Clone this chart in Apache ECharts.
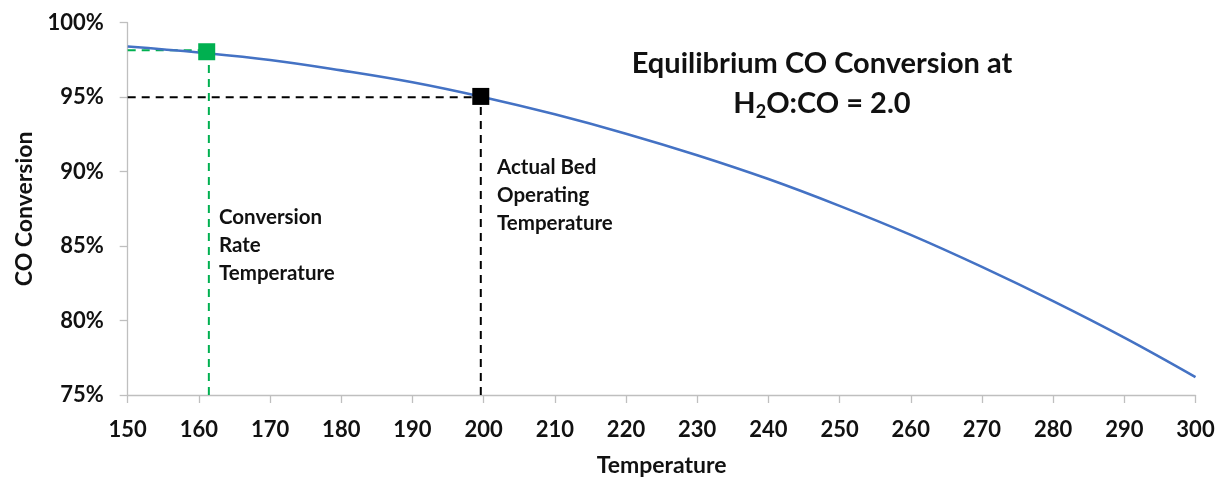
<!DOCTYPE html>
<html>
<head>
<meta charset="utf-8">
<script src="https://cdn.jsdelivr.net/npm/echarts@6/dist/echarts.min.js"></script>
<style>
html,body{margin:0;padding:0;background:#fff;}
#chart{width:1220px;height:482px;}
</style>
</head>
<body>
<div id="chart"></div>
<script>
// Temperatures (x) and equilibrium CO conversion (%)
const temperatures = [150, 160, 170, 180, 190, 200, 210, 220, 230, 240, 250, 260, 270, 280, 290, 300];
const conversion   = [98.4, 98.0, 97.5, 96.8, 96.0, 95.0, 93.85, 92.55, 91.1, 89.5, 87.7, 85.75, 83.6, 81.3, 78.85, 76.2];

// Marked operating points
const greenPoint = [161.1, 98.05];   // conversion rate temperature
const blackPoint = [199.6, 95.05];   // actual bed operating temperature

// Guide lines
const greenHLine = [[150, 98.15], [161.1, 98.15]];
const greenVLine = [[161.4, 75], [161.4, 98.05]];
const blackHLine = [[150, 95], [199.6, 95]];
const blackVLine = [[199.6, 75], [199.6, 95.05]];

// Axes
const xMin = 150, xMax = 300, xStep = 10;
const yMin = 75, yMax = 100, yStep = 5;

const titleLine1 = 'Equilibrium CO Conversion at';
const titleLine2 = 'H{sub|2}O:CO = 2.0';
const xName = 'Temperature';
const yName = 'CO Conversion';
const noteGreen = 'Conversion\nRate\nTemperature';
const noteBlack = 'Actual Bed\nOperating\nTemperature';

const FONT = 'Lato, "Open Sans", sans-serif';
const INK = '#111111';
const chart = echarts.init(document.getElementById('chart'), null, {renderer: 'canvas'});

const curveData = temperatures.map((t, i) => [t, conversion[i]]);

const option = {
  backgroundColor: '#ffffff',
  animation: false,
  textStyle: {fontFamily: FONT},
  grid: {left: 127.7, right: 24.5, top: 22.7, bottom: 84.5, containLabel: false},
  xAxis: {
    type: 'value', min: xMin, max: xMax, interval: xStep,
    name: xName, nameLocation: 'middle', nameGap: 59,
    nameTextStyle: {fontFamily: FONT, fontWeight: 'bold', fontSize: 23, color: INK},
    axisLine: {show: true, lineStyle: {color: '#BFBFBF', width: 1.3}},
    axisTick: {show: true, length: 8, lineStyle: {color: '#BFBFBF', width: 1.3}},
    axisLabel: {fontFamily: FONT, fontWeight: 'bold', fontSize: 22, color: INK, margin: 24},
    splitLine: {show: false}
  },
  yAxis: {
    type: 'value', min: yMin, max: yMax, interval: yStep,
    name: yName, nameLocation: 'middle', nameGap: 92, nameRotate: 90,
    nameTextStyle: {fontFamily: FONT, fontWeight: 'bold', fontSize: 23, color: INK},
    axisLine: {show: true, lineStyle: {color: '#BFBFBF', width: 1.3}},
    axisTick: {show: true, length: 8, lineStyle: {color: '#BFBFBF', width: 1.3}},
    axisLabel: {fontFamily: FONT, fontWeight: 'bold', fontSize: 22, color: INK, margin: 24,
      formatter: '{value}%'},
    splitLine: {show: false}
  },
  title: [{
    text: titleLine1 + '\n' + titleLine2,
    left: 817, top: 39, textAlign: 'center',
    textStyle: {
      fontFamily: FONT, fontWeight: 'bold', fontSize: 29, color: INK, lineHeight: 40,
      rich: {
        sub: {fontFamily: FONT, fontWeight: 'bold', fontSize: 18, lineHeight: 18, padding: [16, 0, 0, 0], color: INK}
      }
    }
  }],
  graphic: [
    {type: 'text', left: 219, top: 203,
      style: {text: noteGreen, font: 'bold 20.5px ' + FONT, fill: INK, lineHeight: 28}},
    {type: 'text', left: 497, top: 153,
      style: {text: noteBlack, font: 'bold 20.5px ' + FONT, fill: INK, lineHeight: 28}}
  ],
  series: [
    {type: 'line', data: greenHLine, symbol: 'none', silent: true,
      lineStyle: {color: '#00B050', width: 2, type: [8, 6]}, z: 3},
    {type: 'line', data: greenVLine, symbol: 'none', silent: true,
      lineStyle: {color: '#00B050', width: 2, type: [8, 6]}, z: 3},
    {type: 'line', data: blackHLine, symbol: 'none', silent: true,
      lineStyle: {color: '#000000', width: 2, type: [8, 6]}, z: 3},
    {type: 'line', data: blackVLine, symbol: 'none', silent: true,
      lineStyle: {color: '#000000', width: 2, type: [8, 6]}, z: 3},
    {type: 'line', data: curveData, smooth: 0.4, symbol: 'none', silent: true,
      lineStyle: {color: '#4472C4', width: 2.6}, z: 4},
    {type: 'scatter', data: [greenPoint], symbol: 'rect', symbolSize: 17, silent: true,
      itemStyle: {color: '#00B050', opacity: 1}, z: 5},
    {type: 'scatter', data: [blackPoint], symbol: 'rect', symbolSize: 17, silent: true,
      itemStyle: {color: '#000000', opacity: 1}, z: 5}
  ]
};
chart.setOption(option);
</script>
</body>
</html>
